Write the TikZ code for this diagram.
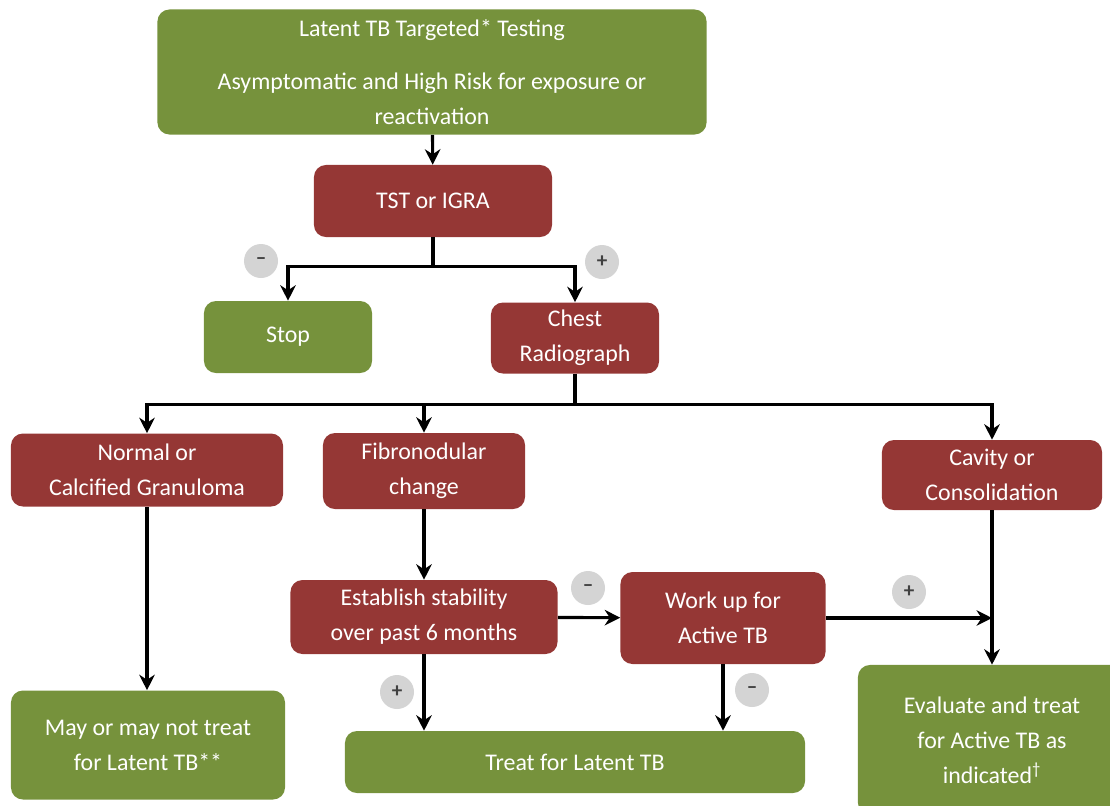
\documentclass[tikz,border=0pt]{standalone}
\usepackage{fontspec}
\setmainfont{Carlito}
\usetikzlibrary{arrows.meta}
\definecolor{tbgreen}{RGB}{118,146,60}
\definecolor{tbred}{RGB}{149,55,53}
\definecolor{signgray}{RGB}{212,212,212}
\begin{document}
\begin{tikzpicture}[x=0.025cm, y=-0.025cm,
  box/.style={rounded corners=0.3cm, text=white, align=center, inner sep=2pt,
    font=\fontsize{17}{25}\selectfont},
  redbox/.style={box, fill=tbred},
  greenbox/.style={box, fill=tbgreen},
  sign/.style={circle, fill=signgray, text=black!75, minimum size=0.85cm, inner sep=0pt,
    font=\fontsize{15}{15}\selectfont\bfseries},
  flow/.style={draw, line width=2.2pt, -{Stealth[length=11pt,width=11pt]}}]
\useasboundingbox (0,0) rectangle (1110,805);

\node[greenbox, minimum width=13.725cm, minimum height=3.125cm] (1) at (432,72)
  {Latent TB Targeted* Testing\\[0.45cm] Asymptomatic and High Risk for exposure or\\ reactivation};
\node[redbox, minimum width=5.95cm, minimum height=1.8cm] (2) at (433,201) {TST or IGRA};
\node[greenbox, minimum width=4.2cm, minimum height=1.8cm] (3) at (288,337) {Stop};
\node[redbox, minimum width=4.2cm, minimum height=1.775cm] (4) at (575,338) {Chest\\ Radiograph};
\node[redbox, minimum width=6.8cm, minimum height=1.825cm] (5) at (147,470) {Normal or\\ Calcified Granuloma};
\node[redbox, minimum width=5.05cm, minimum height=1.9cm] (6) at (424,471) {Fibronodular\\ change};
\node[redbox, minimum width=5.5cm, minimum height=1.75cm] (7) at (992,475) {Cavity or\\ Consolidation};
\node[redbox, minimum width=6.675cm, minimum height=1.85cm] (8) at (424,617) {Establish stability\\ over past 6 months};
\node[redbox, minimum width=5.125cm, minimum height=2.3cm] (9) at (723,618) {Work up for\\ Active TB};
\node[greenbox, minimum width=6.85cm, minimum height=2.725cm] (10) at (148,745) {May or may not treat\\ for Latent TB**};
\node[greenbox, minimum width=11.5cm, minimum height=1.55cm] (11) at (575,762) {Treat for Latent TB};
\node[greenbox, minimum width=6.7cm, minimum height=3.75cm] (12) at (992,740)
  {Evaluate and treat\\ for Active TB as\\ indicated\textsuperscript{\textdagger}};

\node[sign] (s1) at (261,261) {--};
\node[sign] (s2) at (602,262) {+};
\node[sign] (s3) at (588,588) {--};
\node[sign] (s4) at (909,592) {+};
\node[sign] (s5) at (397,692) {+};
\node[sign] (s6) at (752,690) {--};

\coordinate (m) at (9.east -| 7);

\path[flow] (1) -- (2);
\path[flow] (2.south) -- ++(0,29) -| (3);
\path[flow] (2.south) -- ++(0,29) -| (4);
\path[flow] (4.south) -- ++(0,31) -| (5);
\path[flow] (4.south) -- ++(0,31) -| (6);
\path[flow] (4.south) -- ++(0,31) -| (7);
\path[flow] (5) -- (5 |- 10.north);
\path[flow] (6) -- (8);
\path[flow] (8) -- (9);
\path[flow] (9) -- (m);
\path[flow] (7) -- (12);
\path[flow] (8) -- (8 |- 11.north);
\path[flow] (9) -- (9 |- 11.north);
\end{tikzpicture}
\end{document}
